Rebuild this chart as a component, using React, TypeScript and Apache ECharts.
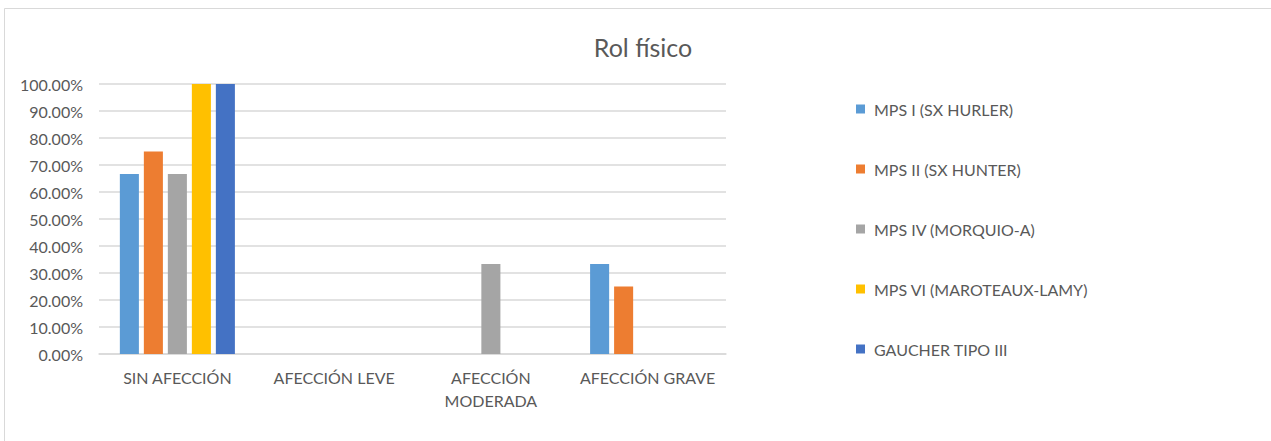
import React, { useEffect, useRef } from "react";
import * as echarts from "echarts";

const categories = ["SIN AFECCIÓN", "AFECCIÓN LEVE", "AFECCIÓN\nMODERADA", "AFECCIÓN GRAVE"];
const seriesNames = [
  "MPS I (SX HURLER)",
  "MPS II (SX HUNTER)",
  "MPS IV (MORQUIO-A)",
  "MPS VI (MAROTEAUX-LAMY)",
  "GAUCHER TIPO III",
];
const mpsI = [66.67, 0, 0, 33.33];
const mpsII = [75, 0, 0, 25];
const mpsIV = [66.67, 0, 33.33, 0];
const mpsVI = [100, 0, 0, 0];
const gaucher = [100, 0, 0, 0];
const seriesValues = [mpsI, mpsII, mpsIV, mpsVI, gaucher];
const colors = ["#5B9BD5", "#ED7D31", "#A5A5A5", "#FFC000", "#4472C4"];

const FONT = "Lato, 'Open Sans', sans-serif";

export default function App() {
  const ref = useRef<HTMLDivElement>(null);
  useEffect(() => {
    document.body.style.margin = "0";
    if (!ref.current) return;
    const chart = echarts.init(ref.current, null, { renderer: "svg" });
    chart.setOption({
      animation: false,
      color: colors,
      textStyle: { fontFamily: FONT },
      title: {
        text: "Rol físico",
        left: 638,
        top: 29,
        textAlign: "center",
        textStyle: { fontFamily: FONT, fontSize: 25, fontWeight: "normal", color: "#595959" },
      },
      graphic: [
        {
          type: "rect",
          shape: { x: 4.5, y: 8.5, width: 1275, height: 450 },
          style: { fill: "none", stroke: "#D9D9D9", lineWidth: 1 },
          silent: true,
        },
      ],
      legend: {
        orient: "vertical",
        left: 851,
        top: 96,
        itemWidth: 9,
        itemHeight: 9,
        itemGap: 44,
        icon: "rect",
        textStyle: { fontFamily: FONT, fontSize: 16, color: "#595959", padding: [0, 0, 0, 4] },
        data: seriesNames,
      },
      grid: { left: 99, right: 545, top: 84, bottom: 87, containLabel: false },
      xAxis: {
        type: "category",
        data: categories,
        axisLine: { lineStyle: { color: "#D9D9D9", width: 1.5 } },
        axisTick: { show: false },
        axisLabel: {
          fontFamily: FONT,
          fontSize: 16,
          color: "#595959",
          margin: 12,
          lineHeight: 23,
          interval: 0,
        },
      },
      yAxis: {
        type: "value",
        min: 0,
        max: 100,
        interval: 10,
        axisLine: { show: false },
        axisTick: { show: false },
        splitLine: { lineStyle: { color: "#D9D9D9", width: 1.5 } },
        axisLabel: {
          fontFamily: FONT,
          fontSize: 16,
          color: "#595959",
          margin: 16,
          formatter: (v: number) => v.toFixed(2) + "%",
        },
      },
      series: seriesNames.map((name, i) => ({
        name,
        type: "bar",
        data: seriesValues[i],
        barGap: "26%",
        barCategoryGap: "26.6%",
        itemStyle: { color: colors[i] },
      })),
    });
    return () => chart.dispose();
  }, []);
  return <div ref={ref} style={{ width: 1271, height: 441 }} />;
}
